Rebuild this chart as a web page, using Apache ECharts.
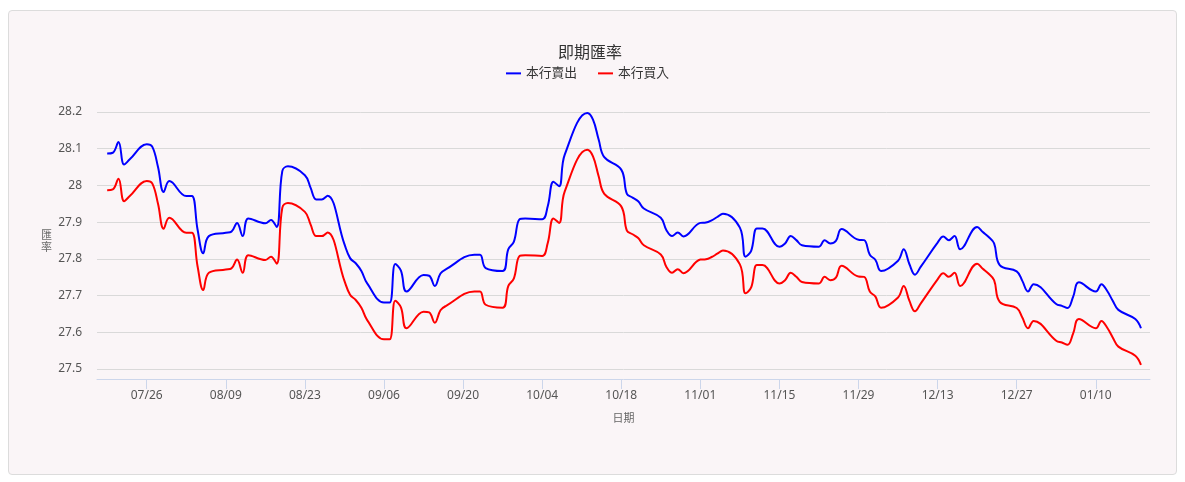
<!DOCTYPE html>
<html>
<head>
<meta charset="utf-8">
<script src="https://cdn.jsdelivr.net/npm/echarts@6/dist/echarts.min.js"></script>
<style>
  html, body { margin: 0; padding: 0; background: #ffffff; width: 1185px; height: 482px; overflow: hidden; }
  #frame { position: absolute; left: 8px; top: 10px; width: 1167px; height: 463px; border: 1px solid #dcdcdc; border-radius: 4px; background: #faf5f7; }
  #chart { position: absolute; left: 0; top: 0; width: 1185px; height: 482px; }
</style>
</head>
<body>
<div id="frame"></div>
<div id="chart"></div>
<script>
// ---- data ----
const chartTitle = '即期匯率';
const seriesNames = ['本行賣出', '本行買入'];
const xAxisName = '日期';
const yAxisName = '匯\n率';

const dates = [
  '2021-07-19','2021-07-20','2021-07-21','2021-07-22','2021-07-23',
  '2021-07-26','2021-07-27','2021-07-28','2021-07-29','2021-07-30',
  '2021-08-02','2021-08-03','2021-08-04','2021-08-05','2021-08-06',
  '2021-08-09','2021-08-10','2021-08-11','2021-08-12','2021-08-13',
  '2021-08-16','2021-08-17','2021-08-18','2021-08-19','2021-08-20',
  '2021-08-23','2021-08-24','2021-08-25','2021-08-26','2021-08-27',
  '2021-08-30','2021-08-31','2021-09-01','2021-09-02','2021-09-03',
  '2021-09-06','2021-09-07','2021-09-08','2021-09-09','2021-09-10',
  '2021-09-13','2021-09-14','2021-09-15','2021-09-16','2021-09-17',
  '2021-09-22','2021-09-23','2021-09-24',
  '2021-09-27','2021-09-28','2021-09-29','2021-09-30','2021-10-01',
  '2021-10-04','2021-10-05','2021-10-06','2021-10-07','2021-10-08',
  '2021-10-12','2021-10-13','2021-10-14','2021-10-15',
  '2021-10-18','2021-10-19','2021-10-20','2021-10-21','2021-10-22',
  '2021-10-25','2021-10-26','2021-10-27','2021-10-28','2021-10-29',
  '2021-11-01','2021-11-02','2021-11-03','2021-11-04','2021-11-05',
  '2021-11-08','2021-11-09','2021-11-10','2021-11-11','2021-11-12',
  '2021-11-15','2021-11-16','2021-11-17','2021-11-18','2021-11-19',
  '2021-11-22','2021-11-23','2021-11-24','2021-11-25','2021-11-26',
  '2021-11-29','2021-11-30','2021-12-01','2021-12-02','2021-12-03',
  '2021-12-06','2021-12-07','2021-12-08','2021-12-09','2021-12-10',
  '2021-12-13','2021-12-14','2021-12-15','2021-12-16','2021-12-17',
  '2021-12-20','2021-12-21','2021-12-22','2021-12-23','2021-12-24',
  '2021-12-27','2021-12-28','2021-12-29','2021-12-30',
  '2022-01-03','2022-01-04','2022-01-05','2022-01-06','2022-01-07',
  '2022-01-10','2022-01-11','2022-01-12','2022-01-13','2022-01-14',
  '2022-01-17','2022-01-18'
];

const sellRates = [
  28.087, 28.089, 28.118, 28.057, 28.071,
  28.112, 28.105, 28.050, 27.982, 28.012,
  27.971, 27.971, 27.880, 27.815, 27.862,
  27.871, 27.874, 27.898, 27.862, 27.910,
  27.897, 27.906, 27.887, 28.039, 28.052,
  28.028, 27.994, 27.962, 27.962, 27.972,
  27.840, 27.802, 27.788, 27.767, 27.734,
  27.681, 27.681, 27.786, 27.768, 27.711,
  27.756, 27.754, 27.726, 27.760, 27.772,
  27.811, 27.811, 27.775,
  27.767, 27.826, 27.847, 27.908, 27.910,
  27.908, 27.944, 28.010, 27.998, 28.084,
  28.197, 28.179, 28.125, 28.077,
  28.043, 27.977, 27.967, 27.957, 27.937,
  27.912, 27.878, 27.862, 27.872, 27.861,
  27.898, 27.899, 27.905, 27.914, 27.923,
  27.885, 27.806, 27.822, 27.883, 27.883,
  27.833, 27.842, 27.862, 27.851, 27.837,
  27.833, 27.851, 27.842, 27.849, 27.881,
  27.852, 27.851, 27.811, 27.797, 27.767,
  27.795, 27.826, 27.786, 27.757, 27.778,
  27.844, 27.861, 27.851, 27.862, 27.826,
  27.887, 27.873, 27.860, 27.842, 27.783,
  27.766, 27.740, 27.711, 27.731,
  27.677, 27.672, 27.666, 27.697, 27.736,
  27.711, 27.731, 27.713, 27.686, 27.661,
  27.636, 27.611
];

const buyRates = [
  27.987, 27.989, 28.018, 27.957, 27.971,
  28.012, 28.005, 27.950, 27.882, 27.912,
  27.871, 27.871, 27.780, 27.715, 27.762,
  27.771, 27.774, 27.798, 27.762, 27.810,
  27.797, 27.806, 27.787, 27.939, 27.952,
  27.928, 27.894, 27.862, 27.862, 27.872,
  27.740, 27.702, 27.688, 27.667, 27.634,
  27.581, 27.581, 27.686, 27.668, 27.611,
  27.656, 27.654, 27.626, 27.660, 27.672,
  27.711, 27.711, 27.675,
  27.667, 27.726, 27.747, 27.808, 27.810,
  27.808, 27.844, 27.910, 27.898, 27.984,
  28.097, 28.079, 28.025, 27.977,
  27.943, 27.877, 27.867, 27.857, 27.837,
  27.812, 27.778, 27.762, 27.772, 27.761,
  27.798, 27.799, 27.805, 27.814, 27.823,
  27.785, 27.706, 27.722, 27.783, 27.783,
  27.733, 27.742, 27.762, 27.751, 27.737,
  27.733, 27.751, 27.742, 27.749, 27.781,
  27.752, 27.751, 27.711, 27.697, 27.667,
  27.695, 27.726, 27.686, 27.657, 27.678,
  27.744, 27.761, 27.751, 27.762, 27.726,
  27.787, 27.773, 27.760, 27.742, 27.683,
  27.666, 27.640, 27.611, 27.631,
  27.577, 27.572, 27.566, 27.597, 27.636,
  27.611, 27.631, 27.613, 27.586, 27.561,
  27.536, 27.511
];

const tickDates = [
  '2021-07-26','2021-08-09','2021-08-23','2021-09-06','2021-09-20',
  '2021-10-04','2021-10-18','2021-11-01','2021-11-15','2021-11-29',
  '2021-12-13','2021-12-27','2022-01-10'
];

const axisStartDate = '2021-07-17';
const axisEndDate = '2022-01-19';

// ---- helpers ----
function toDay(s) {
  const p = s.split('-').map(Number);
  return Date.UTC(p[0], p[1] - 1, p[2]) / 86400000;
}
function fmt(day) {
  const d = new Date(day * 86400000);
  const m = String(d.getUTCMonth() + 1).padStart(2, '0');
  const dd = String(d.getUTCDate()).padStart(2, '0');
  return m + '/' + dd;
}
const tickDays = tickDates.map(toDay);
const sellData = dates.map((d, i) => [toDay(d), sellRates[i]]);
const buyData = dates.map((d, i) => [toDay(d), buyRates[i]]);

const FONT = '"Noto Sans", "Noto Sans CJK TC", sans-serif';

const chart = echarts.init(document.getElementById('chart'), null, { renderer: 'canvas' });
chart.setOption({
  animation: false,
  backgroundColor: 'transparent',
  textStyle: { fontFamily: FONT },
  title: {
    text: chartTitle,
    left: 553,
    top: 40,
    textStyle: { fontSize: 16, fontWeight: 'normal', color: '#333333', fontFamily: FONT }
  },
  legend: {
    top: 62,
    left: 501,
    icon: 'rect',
    itemWidth: 15,
    itemHeight: 2,
    itemGap: 21,
    textStyle: { fontSize: 12.75, color: '#333333', fontFamily: FONT },
    data: seriesNames
  },
  graphic: [{
    type: 'text',
    left: 41,
    top: 229,
    silent: true,
    style: { text: yAxisName, fontSize: 11, lineHeight: 12, fill: '#6b6b6b', fontFamily: '"Noto Sans CJK TC", sans-serif', align: 'left' }
  }],
  grid: { left: 97, right: 35, top: 112, bottom: 113, containLabel: false },
  xAxis: {
    type: 'value',
    min: toDay(axisStartDate) + 0.2,
    max: toDay(axisEndDate) + 0.6,
    offset: 10,
    name: xAxisName,
    nameLocation: 'middle',
    nameGap: 34,
    nameTextStyle: { fontSize: 11, color: '#666666', fontFamily: FONT },
    axisLine: { show: true, lineStyle: { color: '#ccd6eb', width: 1 } },
    axisTick: { show: true, length: 10, customValues: tickDays, lineStyle: { color: '#ccd6eb' } },
    axisLabel: {
      customValues: tickDays,
      formatter: (v) => fmt(v),
      margin: 11,
      fontSize: 12,
      color: '#555555',
      fontFamily: FONT
    },
    splitLine: { show: false }
  },
  yAxis: {
    type: 'value',
    min: 27.5,
    max: 28.2,
    interval: 0.1,
    axisLine: { show: false },
    axisTick: { show: false },
    axisLabel: { margin: 15, fontSize: 12, color: '#555555', fontFamily: FONT,
      formatter: (v) => String(Math.round(v * 10) / 10) },
    splitLine: { show: true, lineStyle: { color: '#d9d9d9', width: 1 } }
  },
  series: [
    {
      name: seriesNames[0], type: 'line', data: sellData, smooth: 0.4,
      showSymbol: false, symbol: 'none',
      lineStyle: { color: '#0000ff', width: 2 }, itemStyle: { color: '#0000ff' }
    },
    {
      name: seriesNames[1], type: 'line', data: buyData, smooth: 0.4,
      showSymbol: false, symbol: 'none',
      lineStyle: { color: '#ff0000', width: 2 }, itemStyle: { color: '#ff0000' }
    }
  ]
});
</script>
</body>
</html>
